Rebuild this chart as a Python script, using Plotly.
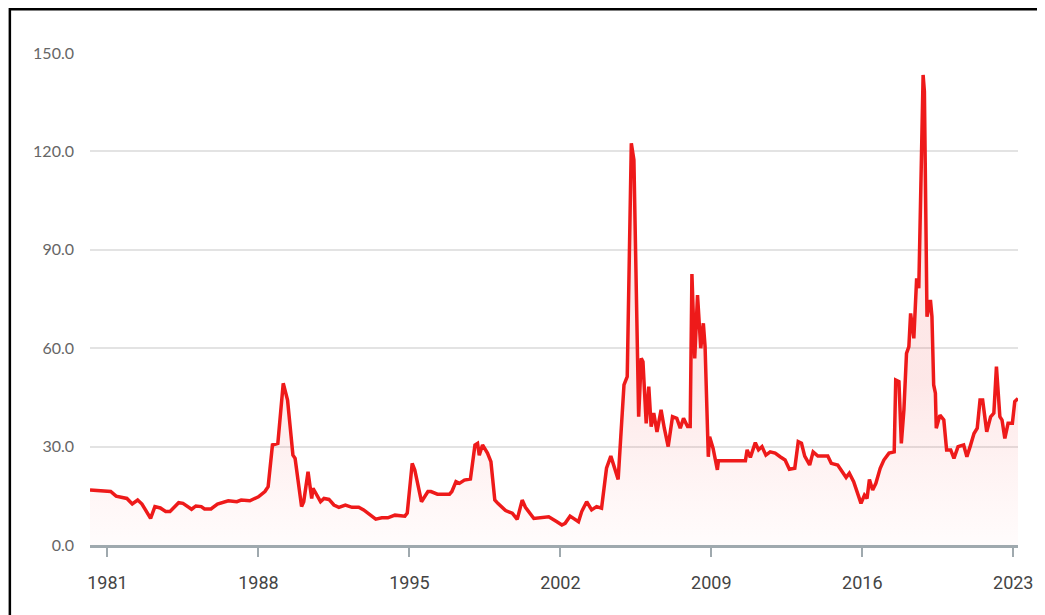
import plotly.graph_objects as go

years = [
    1980.19, 1981.15, 1981.4, 1981.9, 1982.15, 1982.4, 1982.6, 1983.0, 1983.2, 1983.45,
    1983.7, 1983.9, 1984.3, 1984.5, 1984.9, 1985.1, 1985.35, 1985.5, 1985.8, 1986.1,
    1986.6, 1987.0, 1987.2, 1987.6, 1988.0, 1988.3, 1988.45, 1988.65, 1988.9, 1988.97,
    1989.15, 1989.35, 1989.6, 1989.7, 1990.0, 1990.1, 1990.3, 1990.47, 1990.53, 1990.88,
    1991.04, 1991.27, 1991.5, 1991.73, 1992.03, 1992.34, 1992.65, 1992.88, 1993.18, 1993.44,
    1993.72, 1994.0, 1994.33, 1994.79, 1994.9, 1995.13, 1995.25, 1995.56, 1995.86, 1996.0,
    1996.3, 1996.86, 1996.97, 1997.16, 1997.32, 1997.55, 1997.83, 1998.04, 1998.16, 1998.24,
    1998.39, 1998.62, 1998.78, 1998.96, 1999.1, 1999.46, 1999.77, 2000.0, 2000.23, 2000.38,
    2000.77, 2001.23, 2001.46, 2001.84, 2002.07, 2002.22, 2002.45, 2002.84, 2002.99, 2003.22,
    2003.45, 2003.68, 2003.91, 2004.14, 2004.34, 2004.68, 2004.95, 2005.1, 2005.29, 2005.41,
    2005.63, 2005.75, 2005.83, 2005.98, 2006.1, 2006.21, 2006.33, 2006.48, 2006.67, 2006.82,
    2007.0, 2007.2, 2007.4, 2007.56, 2007.71, 2007.9, 2008.02, 2008.1, 2008.23, 2008.36,
    2008.51, 2008.63, 2008.71, 2008.86, 2008.92, 2009.08, 2009.28, 2009.33, 2010.58, 2010.66,
    2010.81, 2011.04, 2011.19, 2011.35, 2011.53, 2011.73, 2011.96, 2012.19, 2012.42, 2012.62,
    2012.87, 2013.03, 2013.18, 2013.33, 2013.56, 2013.72, 2013.94, 2014.4, 2014.56, 2014.86,
    2015.1, 2015.25, 2015.4, 2015.6, 2015.94, 2016.1, 2016.22, 2016.33, 2016.48, 2016.63,
    2016.83, 2017.0, 2017.24, 2017.48, 2017.55, 2017.7, 2017.81, 2017.93, 2018.05, 2018.16,
    2018.24, 2018.39, 2018.52, 2018.62, 2018.82, 2018.88, 2019.0, 2019.16, 2019.23, 2019.31,
    2019.39, 2019.43, 2019.6, 2019.78, 2019.91, 2020.1, 2020.25, 2020.44, 2020.7, 2020.85,
    2021.0, 2021.18, 2021.33, 2021.46, 2021.58, 2021.77, 2021.95, 2022.1, 2022.22, 2022.38,
    2022.48, 2022.61, 2022.76, 2022.96, 2023.07, 2023.22,
]

values = [
    16.8, 16.3, 14.9, 14.2, 12.5, 13.7, 12.5, 8.1, 11.7, 11.3,
    10.2, 10.2, 12.9, 12.7, 10.9, 11.9, 11.7, 11.0, 11.0, 12.5,
    13.5, 13.2, 13.7, 13.5, 14.7, 16.3, 17.8, 30.5, 31.0, 36.1,
    49.3, 44.2, 27.4, 26.4, 11.7, 13.2, 22.3, 14.2, 17.3, 13.2,
    14.2, 13.9, 12.2, 11.5, 12.2, 11.5, 11.5, 10.7, 9.3, 7.9,
    8.3, 8.3, 9.1, 8.8, 9.7, 24.9, 22.9, 13.2, 16.3, 16.3,
    15.5, 15.5, 16.3, 19.3, 18.8, 19.8, 20.1, 30.5, 31.0, 27.4,
    30.5, 28.0, 25.4, 13.7, 12.7, 10.5, 9.7, 7.8, 13.7, 11.5,
    8.1, 8.4, 8.6, 7.1, 6.1, 6.6, 8.8, 7.1, 10.2, 13.2,
    10.7, 11.7, 11.2, 23.4, 27.1, 20.0, 48.8, 51.3, 122.5, 117.4,
    39.1, 56.9, 55.9, 37.1, 48.3, 36.1, 40.2, 34.5, 41.2, 35.6,
    30.0, 39.1, 38.6, 35.6, 38.6, 36.1, 36.1, 82.6, 56.9, 76.2,
    60.0, 67.6, 60.5, 26.9, 33.0, 29.5, 22.9, 25.7, 25.7, 29.0,
    26.7, 31.2, 29.0, 30.0, 27.4, 28.4, 28.0, 26.9, 25.9, 23.1,
    23.4, 31.5, 31.0, 27.1, 24.4, 28.4, 27.1, 27.1, 24.9, 24.4,
    22.3, 20.6, 21.9, 19.3, 12.7, 15.2, 14.2, 20.0, 16.8, 18.8,
    23.4, 25.9, 28.0, 28.4, 50.3, 49.8, 31.0, 41.2, 58.4, 60.5,
    70.6, 63.0, 81.3, 78.3, 143.3, 138.2, 69.6, 74.7, 69.6, 48.8,
    46.3, 35.6, 39.6, 38.1, 29.0, 29.0, 26.4, 30.0, 30.5, 26.9,
    30.0, 34.0, 35.6, 44.2, 44.2, 34.5, 39.1, 40.2, 54.4, 39.1,
    38.1, 32.5, 37.1, 37.1, 43.7, 44.7,
]

x_ticks = [1981, 1988, 1995, 2002, 2009, 2016, 2023]
x_tick_labels = ["1981", "1988", "1995", "2002", "2009", "2016", "2023"]
y_ticks = [0, 30, 60, 90, 120, 150]
y_tick_labels = ["0.0", "30.0", "60.0", "90.0", "120.0", "150.0"]

W, H = 1037, 607
L, R, T, B = 82, 20, 45, 70
PW, PH = W - L - R, H - T - B

fig = go.Figure()
fig.add_trace(go.Scatter(
    x=years, y=values, mode="lines",
    line=dict(color="#ee1a1a", width=3.5),
    fill="tozeroy",
    fillgradient=dict(
        type="vertical",
        colorscale=[[0, "rgba(255,90,90,0.02)"], [1, "rgba(240,60,60,0.12)"]],
        start=0, stop=50,
    ),
    hoverinfo="skip",
))

fig.update_layout(
    width=W, height=H,
    margin=dict(l=L, r=R, t=T, b=B),
    paper_bgcolor="white", plot_bgcolor="white",
    showlegend=False,
    font=dict(family="Lato", color="#5a5a5a", size=15),
    xaxis=dict(
        range=[1980.19, 2023.22],
        tickmode="array", tickvals=x_ticks, ticktext=x_tick_labels,
        showgrid=False, zeroline=False,
        showline=True, linecolor="#9fa9ae", linewidth=3,
        ticks="outside", ticklen=9, tickwidth=1.5, tickcolor="#9fa9ae",
        tickfont=dict(family="Liberation Sans Narrow, Roboto, Lato", size=18, color="#444444"),
        ticklabelstandoff=10,
    ),
    yaxis=dict(
        range=[0, 150],
        tickmode="array", tickvals=y_ticks, ticktext=y_tick_labels,
        showgrid=True, gridcolor="#e3e3e3", gridwidth=1.5,
        zeroline=False, showline=False, ticks="",
        tickfont=dict(family="Lato", size=16, color="#666666"),
        ticklabelstandoff=15,
    ),
    shapes=[dict(
        type="rect", xref="paper", yref="paper",
        x0=(1.25 - L) / PW, x1=(W + 20 - L) / PW,
        y0=-(B + 30) / PH, y1=(PH + T - 1.25) / PH,
        line=dict(color="black", width=2.5), fillcolor="rgba(0,0,0,0)",
        layer="above",
    )],
)

fig.write_html("out.html")
